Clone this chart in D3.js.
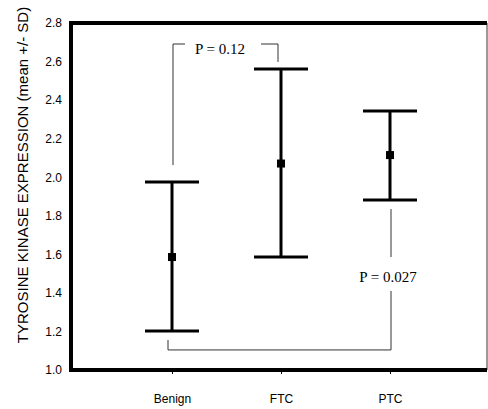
<!DOCTYPE html>
<html>
<head>
<meta charset="utf-8">
<script src="https://cdn.jsdelivr.net/npm/d3@7"></script>
<style>
  body { margin: 0; background: #fff; }
  svg { display: block; }
</style>
</head>
<body>
<svg id="chart" width="488" height="409"></svg>
<script>
// groups and their summary values (mean +/- SD)
var groups = ["Benign", "FTC", "PTC"];
var means  = [1.586, 2.071, 2.115];
var lower  = [1.202, 1.586, 1.882];
var upper  = [1.975, 2.561, 2.343];
var yTicks = [1.0, 1.2, 1.4, 1.6, 1.8, 2.0, 2.2, 2.4, 2.6, 2.8];

var width = 488, height = 409;
var plotL = 71, plotR = 487, plotT = 23, plotB = 370;

var svg = d3.select("#chart");

var x = d3.scalePoint()
    .domain(groups)
    .range([172, 390]);

var y = d3.scaleLinear()
    .domain([1.0, 2.8])
    .range([plotB, plotT]);

// thin grey right edge
svg.append("line")
    .attr("x1", plotR).attr("x2", plotR)
    .attr("y1", plotT).attr("y2", plotB)
    .attr("stroke", "#777").attr("stroke-width", 1.5);

// y axis
var yAxis = svg.append("g")
    .attr("transform", "translate(" + plotL + ",0)")
    .call(d3.axisLeft(y).tickValues(yTicks).tickFormat(d3.format(".1f")).tickSize(0).tickPadding(9));
yAxis.select(".domain").remove();
yAxis.selectAll("text")
    .attr("font-family", "Liberation Sans, Arial, sans-serif")
    .attr("font-size", 12)
    .attr("fill", "#000");

// x axis
var xAxis = svg.append("g")
    .attr("transform", "translate(0," + plotB + ")")
    .call(d3.axisBottom(x).tickSize(4).tickPadding(20));
xAxis.select(".domain").remove();
xAxis.selectAll("line").attr("stroke", "#000").attr("stroke-width", 1);
xAxis.selectAll("text")
    .attr("font-family", "Liberation Sans, Arial, sans-serif")
    .attr("font-size", 12)
    .attr("fill", "#000");

// thick frame: top, left, bottom
svg.append("path")
    .attr("d", "M" + plotR + "," + plotT + "H" + plotL + "V" + plotB + "H" + plotR)
    .attr("fill", "none")
    .attr("stroke", "#000")
    .attr("stroke-width", 4);

// y axis title
svg.append("text")
    .attr("transform", "translate(22,175) rotate(-90)")
    .attr("text-anchor", "middle")
    .attr("dominant-baseline", "central")
    .attr("font-family", "Liberation Sans, Arial, sans-serif")
    .attr("font-size", 15)
    .text("TYROSINE KINASE EXPRESSION (mean +/- SD)");

// error bars
var capW = 27;
groups.forEach(function(g, i) {
    var cx = x(g);
    svg.append("line")
        .attr("x1", cx).attr("x2", cx)
        .attr("y1", y(upper[i])).attr("y2", y(lower[i]))
        .attr("stroke", "#000").attr("stroke-width", 3);
    [upper[i], lower[i]].forEach(function(v) {
        svg.append("line")
            .attr("x1", cx - capW).attr("x2", cx + capW)
            .attr("y1", y(v)).attr("y2", y(v))
            .attr("stroke", "#000").attr("stroke-width", 3);
    });
    svg.append("rect")
        .attr("x", cx - 4).attr("y", y(means[i]) - 4)
        .attr("width", 8).attr("height", 8)
        .attr("fill", "#000");
});

// significance brackets
var lineStyle = function(sel) {
    return sel.attr("fill", "none").attr("stroke", "#333").attr("stroke-width", 1);
};

// Benign vs FTC, P = 0.12
var b1x1 = x("Benign") + 1, b1x2 = x("FTC") - 3;
var b1Top = y(2.691);
svg.append("path")
    .attr("d", "M" + b1x1 + "," + y(2.063) + "V" + b1Top + "H" + 185)
    .call(lineStyle);
svg.append("path")
    .attr("d", "M" + 261 + "," + b1Top + "H" + b1x2 + "V" + y(2.598))
    .call(lineStyle);
svg.append("text")
    .attr("x", 220).attr("y", b1Top + 10)
    .attr("text-anchor", "middle")
    .attr("font-family", "Liberation Serif, Times New Roman, serif")
    .attr("font-size", 15)
    .text("P = 0.12");

// Benign vs PTC, P = 0.027
var b2x1 = x("Benign") - 4, b2x2 = x("PTC") + 1;
var b2Bot = y(1.104);
svg.append("path")
    .attr("d", "M" + b2x2 + "," + y(1.835) + "V" + y(1.586))
    .call(lineStyle);
svg.append("path")
    .attr("d", "M" + b2x2 + "," + y(1.410) + "V" + b2Bot + "H" + b2x1 + "V" + y(1.156))
    .call(lineStyle);
svg.append("text")
    .attr("x", b2x2 - 3).attr("y", y(1.482) + 5)
    .attr("text-anchor", "middle")
    .attr("font-family", "Liberation Serif, Times New Roman, serif")
    .attr("font-size", 15)
    .text("P = 0.027");
</script>
</body>
</html>
